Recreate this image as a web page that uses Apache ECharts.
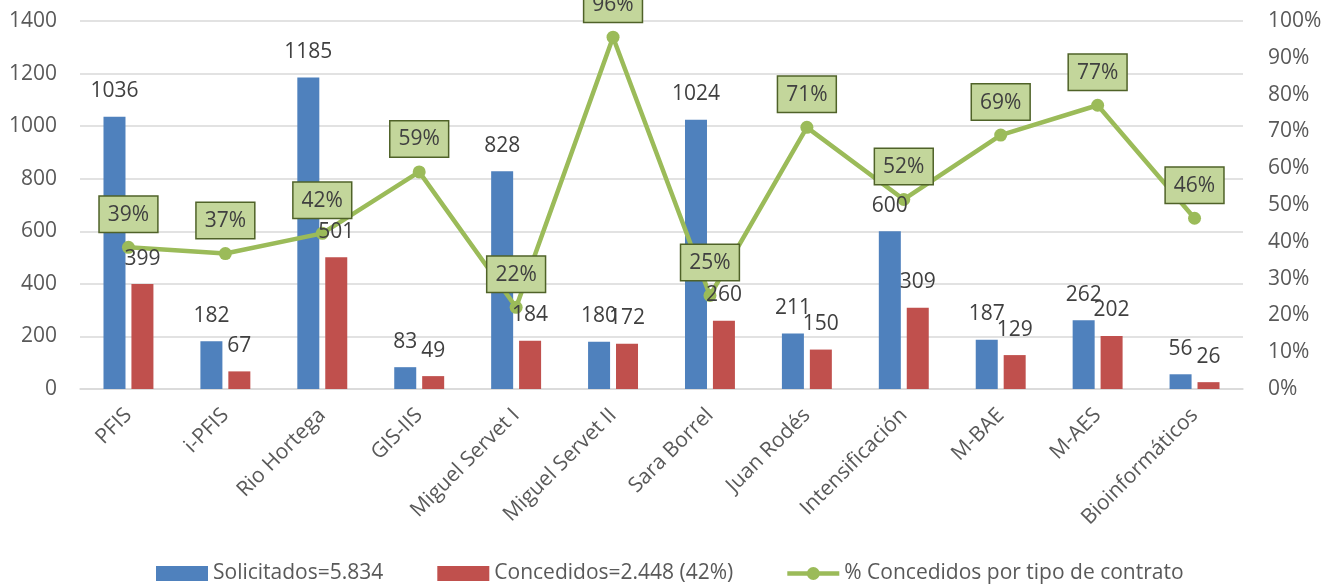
<!DOCTYPE html>
<html><head><meta charset="utf-8">
<script src="https://cdn.jsdelivr.net/npm/echarts@6/dist/echarts.min.js"></script>
<style>html,body{margin:0;padding:0;background:#fff}#c{width:1327px;height:584px}</style>
</head><body><div id="c"></div>
<script>
var categories = ['PFIS','i-PFIS','Rio Hortega','GIS-IIS','Miguel Servet I','Miguel Servet II','Sara Borrel','Juan Rodés','Intensificación','M-BAE','M-AES','Bioinformáticos'];
var solicitados = [1036,182,1185,83,828,180,1024,211,600,187,262,56];
var concedidos = [399,67,501,49,184,172,260,150,309,129,202,26];
var porcentaje = [0.385,0.368,0.423,0.59,0.222,0.956,0.254,0.711,0.515,0.69,0.771,0.464];
var leftTicks = {min:0,max:1400,interval:200};
var rightTicks = {min:0,max:1,interval:0.1};
var seriesNames = ['Solicitados=5.834','Concedidos=2.448 (42%)','% Concedidos por tipo de contrato'];

var FONT = 'Open Sans';
var FS = 21;
var labelColor = '#404040';
var axisColor = '#595959';
var BLUE = '#4f81bd', RED = '#c0504d', GREEN = '#9bbb59';
var lineLegendIcon = 'path://M0,5.2H52V9.8H0Z M19.5,7.5A6.5,6.5 0 1 1 32.5,7.5A6.5,6.5 0 1 1 19.5,7.5Z M0,0.01H0.01V0Z M52,15H51.99V14.99Z';

var barLabel = {show:true,position:'top',distance:15,fontFamily:FONT,fontSize:FS,color:labelColor};

var chart = echarts.init(document.getElementById('c'));
var option = {
  animation:false,
  textStyle:{fontFamily:FONT},
  grid:{left:80,right:84,top:21,bottom:195,containLabel:false},
  legend:{
    top:558,left:151,itemGap:54,itemWidth:52,itemHeight:15,
    textStyle:{fontFamily:FONT,fontSize:FS,color:axisColor},
    data:[{name:seriesNames[0],icon:'rect'},{name:seriesNames[1],icon:'rect'},
      {name:seriesNames[2],icon:lineLegendIcon,itemStyle:{color:GREEN}}]
  },
  xAxis:[{
    type:'category',data:categories,
    axisLine:{lineStyle:{color:'#d9d9d9',width:1.5}},
    axisTick:{show:false},
    axisLabel:{rotate:45,interval:0,margin:23,fontFamily:FONT,fontSize:FS,color:axisColor}
  },{
    type:'category',data:categories,show:false,position:'bottom'
  }],
  yAxis:[{
    type:'value',min:leftTicks.min,max:leftTicks.max,interval:leftTicks.interval,
    axisLine:{show:false},axisTick:{show:false},
    splitLine:{lineStyle:{color:'#d9d9d9',width:1.5}},
    axisLabel:{margin:23,fontFamily:FONT,fontSize:FS,color:axisColor,
      formatter:function(v){return String(v);}}
  },{
    type:'value',min:rightTicks.min,max:rightTicks.max,interval:rightTicks.interval,
    axisLine:{show:false},axisTick:{show:false},splitLine:{show:false},
    axisLabel:{margin:25,fontFamily:FONT,fontSize:FS,color:axisColor,
      formatter:function(v){return Math.round(v*100)+'%';}}
  }],
  series:[{
    name:seriesNames[0],type:'bar',data:solicitados,barWidth:22,barGap:'27%',z:2,
    itemStyle:{color:BLUE}
  },{
    name:seriesNames[1],type:'bar',data:concedidos,barWidth:22,barGap:'27%',z:2,
    itemStyle:{color:RED}
  },{
    name:seriesNames[2],type:'line',yAxisIndex:1,data:porcentaje,
    symbol:'circle',symbolSize:13,z:5,
    lineStyle:{color:GREEN,width:4.5},
    itemStyle:{color:GREEN},
    label:{show:true,position:'top',distance:9,fontFamily:FONT,fontSize:FS,lineHeight:24,color:labelColor,
      backgroundColor:'#c3d69b',borderColor:'#4f6228',borderWidth:1.5,padding:[6,8,5,8],
      formatter:function(p){return Math.round(p.value*100)+'%';}}
  },{
    // label-only overlays so the bar value labels sit above the line
    name:'lbl1',type:'bar',xAxisIndex:1,data:solicitados,barWidth:22,barGap:'27%',z:8,
    itemStyle:{color:'rgba(0,0,0,0)'},label:barLabel,silent:true
  },{
    name:'lbl2',type:'bar',xAxisIndex:1,data:concedidos,barWidth:22,barGap:'27%',z:8,
    itemStyle:{color:'rgba(0,0,0,0)'},label:barLabel,silent:true
  }]
};
chart.setOption(option);
</script>
</body></html>
